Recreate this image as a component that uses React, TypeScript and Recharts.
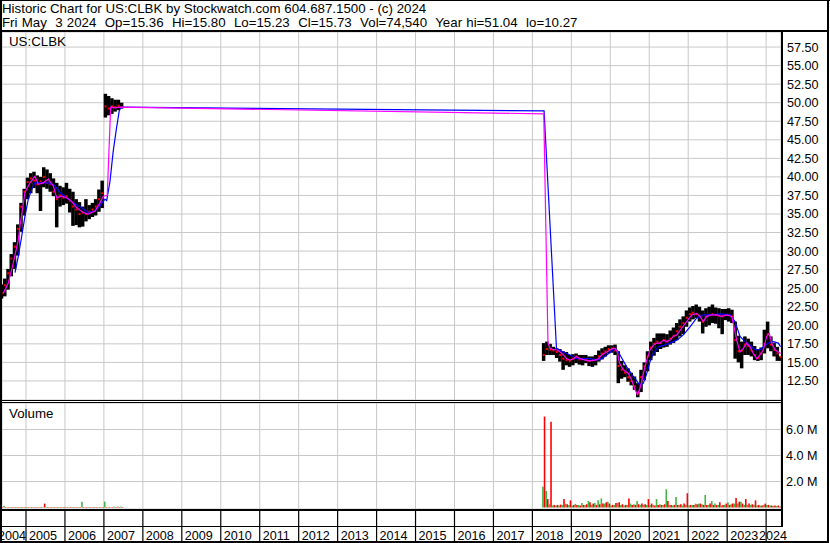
import React from 'react';
import { ComposedChart, Bar, Line, XAxis, YAxis, CartesianGrid } from 'recharts';

const FONT = '"Liberation Sans", Arial, Helvetica, sans-serif';

// ---- categories (months with data) ----
const months = [
  '2004-05','2004-06','2004-07','2004-08','2004-09','2004-10','2004-11','2004-12',
  '2005-01','2005-02','2005-03','2005-04','2005-05','2005-06','2005-07','2005-08','2005-09','2005-10','2005-11','2005-12',
  '2006-01','2006-02','2006-03','2006-04','2006-05','2006-06','2006-07','2006-08','2006-09','2006-10','2006-11','2006-12',
  '2007-01','2007-02','2007-03','2007-04','2007-05','2007-06',
  '2018-04','2018-05','2018-06','2018-07','2018-08','2018-09','2018-10','2018-11','2018-12',
  '2019-01','2019-02','2019-03','2019-04','2019-05','2019-06','2019-07','2019-08','2019-09','2019-10','2019-11','2019-12',
  '2020-01','2020-02','2020-03','2020-04','2020-05','2020-06','2020-07','2020-08','2020-09','2020-10','2020-11','2020-12',
  '2021-01','2021-02','2021-03','2021-04','2021-05','2021-06','2021-07','2021-08','2021-09','2021-10','2021-11','2021-12',
  '2022-01','2022-02','2022-03','2022-04','2022-05','2022-06','2022-07','2022-08','2022-09','2022-10','2022-11','2022-12',
  '2023-01','2023-02','2023-03','2023-04','2023-05','2023-06','2023-07','2023-08','2023-09','2023-10','2023-11','2023-12',
  '2024-01','2024-02','2024-03','2024-04','2024-05',
];

const priceHigh = [
  25.5, 26.3, 27.6, 29.6, 31.2, 33.6, 36.5, 38.4,
  39.9, 40.5, 40.7, 40.2, 40.0, 41.3, 41.0, 40.5, 39.8, 39.2, 38.8, 38.6,
  39.2, 38.4, 38.0, 37.0, 36.6, 36.0, 37.0, 36.2, 36.5, 37.0, 38.3, 39.5,
  51.2, 50.9, 50.6, 50.4, 50.4, 50.0,
  17.6, 17.8, 17.5, 17.1, 16.9, 16.8, 16.5, 16.4, 16.0,
  16.1, 16.2, 16.0, 16.0, 16.0, 15.8, 15.8, 16.0, 16.6, 16.9, 17.1, 17.3,
  17.3, 17.4, 16.5, 15.2, 14.6, 14.2, 13.6, 13.1, 12.2, 14.0, 15.0, 16.5,
  17.8, 18.3, 18.9, 18.9, 18.9, 18.8, 19.3, 19.7, 20.3, 20.8, 21.2, 22.0,
  22.4, 22.6, 22.8, 22.5, 22.0, 22.3, 22.5, 22.8, 22.4, 22.3, 22.2, 22.2,
  22.3, 22.1, 20.5, 18.6, 17.8, 18.5, 18.2, 17.8, 17.2, 16.8, 17.0, 19.4,
  20.5, 18.5, 17.6, 17.1, 15.8,
];

const priceLow = [
  23.6, 23.9, 24.8, 26.6, 27.6, 29.4, 32.6, 34.8,
  37.0, 37.8, 38.5, 37.8, 35.4, 38.6, 38.4, 38.0, 37.4, 33.2, 36.0, 36.2,
  36.4, 35.2, 33.4, 33.5, 33.2, 33.3, 34.0, 34.3, 34.6, 34.8, 35.3, 35.8,
  48.0, 48.3, 48.5, 48.8, 49.0, 49.2,
  15.2, 16.0, 16.0, 16.0, 15.6, 15.1, 14.0, 14.6, 14.4,
  14.6, 14.9, 14.7, 14.6, 14.9, 14.5, 14.4, 14.6, 15.1, 15.4, 15.8, 16.2,
  16.3, 16.0, 12.2, 12.8, 13.0, 12.4, 11.9, 11.3, 10.3, 11.0, 12.6, 13.8,
  15.3, 15.9, 16.4, 16.8, 17.0, 17.1, 17.4, 17.6, 18.0, 18.5, 18.8, 19.8,
  20.5, 20.8, 21.0, 20.5, 18.9, 19.8, 20.0, 20.3, 20.2, 19.6, 18.8, 20.7,
  20.5, 20.3, 15.5, 15.0, 14.2, 16.0, 16.0, 15.8, 15.3, 15.2, 15.3, 16.2,
  16.9, 16.5, 15.8, 15.2, 15.2,
];

const priceClose = [
  24.3, 25.4, 27.0, 29.0, 30.6, 33.0, 36.0, 38.0,
  39.3, 39.8, 39.5, 39.0, 39.4, 40.0, 39.2, 39.0, 38.0, 37.0, 37.5, 37.2,
  37.4, 36.8, 36.0, 35.6, 35.0, 35.2, 35.0, 35.3, 35.6, 36.0, 37.0, 37.8,
  49.5, 49.2, 49.5, 49.4, 49.6, 49.4,
  16.0, 16.8, 16.7, 16.6, 16.4, 16.0, 15.5, 15.3, 15.2,
  15.5, 15.8, 15.4, 15.5, 15.3, 15.2, 15.3, 15.3, 15.8, 16.2, 16.5, 16.8,
  16.9, 16.6, 14.5, 14.0, 13.6, 13.0, 12.5, 11.8, 10.8, 13.0, 14.5, 15.8,
  17.0, 17.5, 17.8, 17.6, 18.0, 17.8, 18.2, 18.6, 19.2, 19.8, 20.3, 21.0,
  21.5, 21.7, 21.5, 21.2, 20.5, 21.2, 21.4, 21.5, 21.4, 21.3, 21.2, 21.4,
  21.4, 21.2, 18.0, 16.5, 16.6, 17.4, 17.2, 16.6, 16.0, 15.6, 16.2, 17.5,
  18.8, 17.4, 16.7, 16.2, 15.7,
];

// volume in millions of shares (peak up-day / down-day volume within each month)
const volUp = [
  0.04, 0.14, 0.04, 0.04, 0.04, 0.04, 0.04, 0.04,
  0.04, 0.04, 0.04, 0.04, 0.04, 0.04, 0.04, 0.04, 0.04, 0.04, 0.04, 0.04,
  0.04, 0.04, 0.04, 0.04, 0.04, 0.45, 0.04, 0.04, 0.04, 0.04, 0.04, 0.04,
  0.45, 0.04, 0.04, 0.06, 0.07, 0.07,
  1.6, 1.27, 0.25, 0.15, 0.15, 0.15, 0.2, 0.3, 0.2,
  0.15, 0.28, 0.2, 0.35, 0.2, 0.5, 0.2, 0.35, 0.55, 0.7, 0.3, 0.45,
  0.15, 0.2, 0.35, 0.2, 0.15, 0.2, 0.3, 0.25, 0.5, 0.2, 0.2, 0.2,
  0.2, 0.2, 0.65, 0.25, 0.2, 1.4, 0.2, 0.15, 0.8, 0.2, 0.15, 0.2,
  0.15, 0.2, 0.3, 0.3, 0.25, 0.96, 0.2, 0.5, 0.3, 0.2, 0.15, 0.2,
  0.4, 0.25, 0.3, 0.3, 0.45, 0.2, 0.2, 0.2, 0.2, 0.15, 0.15, 0.2,
  0.2, 0.15, 0.12, 0.12, 0.08,
];

const volDown = [
  0.04, 0.04, 0.04, 0.04, 0.04, 0.04, 0.04, 0.04,
  0.04, 0.04, 0.04, 0.04, 0.04, 0.3, 0.04, 0.04, 0.04, 0.04, 0.04, 0.04,
  0.04, 0.04, 0.04, 0.04, 0.04, 0.04, 0.04, 0.04, 0.04, 0.04, 0.04, 0.04,
  0.04, 0.04, 0.04, 0.04, 0.04, 0.04,
  7.0, 0.65, 6.6, 0.2, 0.2, 0.22, 0.65, 0.25, 0.55,
  0.2, 0.2, 0.15, 0.2, 0.25, 0.4, 0.3, 0.2, 0.25, 0.3, 0.4, 0.3,
  0.2, 0.35, 0.4, 0.25, 0.2, 0.7, 0.2, 0.2, 0.25, 0.3, 0.25, 0.65,
  0.3, 0.15, 0.2, 0.2, 0.25, 0.5, 0.2, 0.2, 0.2, 0.25, 0.3, 1.1,
  0.2, 0.2, 0.25, 0.3, 0.2, 0.2, 0.3, 0.2, 0.2, 0.4, 0.2, 0.3,
  0.2, 0.3, 0.73, 0.45, 0.3, 0.65, 0.3, 0.25, 0.55, 0.2, 0.15, 0.3,
  0.2, 0.15, 0.15, 0.15, 0.1,
];

// short moving average (magenta): [decimal year, price]
const maShortT = [
  2004.417, 2004.546, 2004.674, 2004.802, 2004.846, 2004.974, 2005.103, 2005.231, 2005.316, 2005.444,
  2005.572, 2005.701, 2005.788, 2005.916, 2006.044, 2006.173, 2006.301, 2006.47, 2006.599, 2006.771,
  2006.899, 2006.984, 2007.086, 2007.173, 2007.284, 2007.412,
  2018.292, 2018.4, 2018.454, 2018.54, 2018.625, 2018.711, 2018.796, 2018.882, 2018.967,
  2019.053, 2019.138, 2019.224, 2019.352, 2019.481, 2019.609, 2019.694, 2019.78, 2019.908,
  2020.037, 2020.122, 2020.182, 2020.233, 2020.336, 2020.464, 2020.55, 2020.635, 2020.695, 2020.764, 2020.849, 2020.935,
  2021.02, 2021.106, 2021.191, 2021.277, 2021.362, 2021.448, 2021.533, 2021.619, 2021.705, 2021.833, 2021.961,
  2022.09, 2022.218, 2022.303, 2022.389, 2022.474, 2022.603, 2022.731, 2022.859, 2022.988,
  2023.116, 2023.176, 2023.244, 2023.33, 2023.415, 2023.501, 2023.586, 2023.672, 2023.757, 2023.843, 2023.929,
  2024.014, 2024.082, 2024.142, 2024.228, 2024.313, 2024.373,
];
const maShortV = [
  24.3, 25.7, 28.4, 31.5, 33.4, 37.9, 39.2, 40.1, 39.0, 39.2,
  39.7, 38.8, 37.2, 37.4, 37.2, 36.7, 35.85, 35.2, 35.0, 35.4,
  36.5, 37.4, 37.5, 49.4, 49.3, 49.4,
  48.5, 17.6, 16.9, 16.7, 16.7, 16.4, 16.0, 15.5, 15.3,
  15.5, 15.8, 15.5, 15.3, 15.2, 15.3, 15.5, 16.0, 16.4,
  16.8, 16.9, 16.4, 14.9, 14.0, 13.5, 12.6, 11.3, 10.7, 11.5, 13.5, 15.3,
  16.7, 17.3, 17.6, 17.6, 18.0, 17.8, 18.0, 18.5, 18.7, 19.6, 20.5,
  21.4, 21.6, 21.2, 20.5, 21.2, 21.4, 21.4, 21.2, 21.4,
  21.2, 19.8, 18.0, 16.4, 16.9, 17.6, 17.1, 16.2, 15.5, 16.0, 16.7,
  18.5, 18.9, 17.6, 16.7, 16.4, 16.2,
];

// long moving average (blue)
const maLongT = [
  2004.718, 2004.802, 2004.89, 2004.974, 2005.059, 2005.146, 2005.231, 2005.359, 2005.572, 2005.744,
  2005.872, 2006.044, 2006.214, 2006.429, 2006.599, 2006.771, 2006.899, 2007.027, 2007.071, 2007.156,
  2007.24, 2007.327, 2007.394, 2007.438,
  2018.3, 2018.618, 2018.796, 2018.967, 2019.138, 2019.31, 2019.481, 2019.652, 2019.78, 2019.908,
  2020.079, 2020.165, 2020.25, 2020.421, 2020.593, 2020.764, 2020.849, 2020.935,
  2021.02, 2021.106, 2021.234, 2021.362, 2021.533, 2021.705, 2021.876,
  2022.047, 2022.218, 2022.389, 2022.56, 2022.731, 2022.902,
  2023.073, 2023.201, 2023.33, 2023.458, 2023.586, 2023.715, 2023.843, 2023.929,
  2024.057, 2024.185, 2024.313, 2024.373,
];
const maLongV = [
  27.1, 29.3, 32.0, 34.7, 37.0, 38.3, 39.2, 39.2, 39.2, 38.8,
  37.9, 37.2, 36.5, 35.85, 35.2, 35.4, 36.1, 37.0, 36.8, 39.4,
  43.5, 46.7, 48.9, 49.4,
  48.9, 16.9, 16.4, 16.0, 15.5, 15.5, 15.5, 15.3, 15.5, 16.0,
  16.7, 16.7, 16.0, 14.4, 13.1, 11.9, 12.2, 13.5,
  15.1, 16.2, 17.1, 17.3, 17.6, 18.0, 18.7,
  19.8, 21.0, 21.4, 21.4, 21.5, 21.5,
  21.4, 20.5, 18.5, 17.8, 17.3, 16.7, 16.7, 17.1,
  17.6, 17.8, 17.6, 17.1,
];

// ---- axis tick labels ----
const yearTicks = [2005, 2006, 2007, 2008, 2009, 2010, 2011, 2012, 2013, 2014, 2015, 2016, 2017, 2018, 2019, 2020, 2021, 2022, 2023, 2024];
const priceTicks = [12.5, 15, 17.5, 20, 22.5, 25, 27.5, 30, 32.5, 35, 37.5, 40, 42.5, 45, 47.5, 50, 52.5, 55, 57.5];
const volTicks = [2, 4, 6];

const X_START = 2004.384;
const X_END = 2024.382;
const PRICE_DOMAIN: [number, number] = [9.93, 59.53];

const monthToT = (m: string) => {
  const [y, mo] = m.split('-').map(Number);
  return y + (mo - 0.5) / 12;
};

const rows = months.map((m, i) => ({
  t: monthToT(m),
  hi: priceHigh[i],
  lo: priceLow[i],
  cl: priceClose[i],
  up: volUp[i],
  dn: volDown[i],
}));
const maShort = maShortT.map((t, i) => ({ t, v: maShortV[i] }));
const maLong = maLongT.map((t, i) => ({ t, v: maLongV[i] }));

// high-low bar, widened slightly so neighbouring months join into a band
const RangeShape = (p: any) => {
  const { x, y, width, height } = p;
  if (x == null || y == null) return <g />;
  const top = Math.min(y, y + height);
  const h = Math.abs(height);
  const cx = x + width / 2;
  return <rect x={cx - 1.75} y={top} width={3.5} height={h} fill="#000" />;
};

const CloseDot = (p: any) => {
  if (p.cx == null || p.cy == null) return <g key={p.index} />;
  return <rect key={p.index} x={p.cx - 1} y={p.cy - 1} width={2} height={2} fill="#ff0000" />;
};

const YearTick = (props: any) => {
  const { x, y, payload } = props;
  const v = payload.value as number;
  const first = v < 2005;
  const label = first ? '2004' : String(v);
  let tx = x + 3;
  let anchor: 'start' | 'end' = 'start';
  if (first) {
    tx = x + 24;
    anchor = 'end';
  }
  if (v === 2024) tx = x - 7;
  return (
    <g>
      {!first && <line x1={x} x2={x} y1={y} y2={y + 32} stroke="#000" strokeWidth={1.2} />}
      <text x={tx} y={y + 30.5} textAnchor={anchor} fontSize={12.6} fontFamily={FONT} fill="#000">
        {label}
      </text>
    </g>
  );
};

const tickStyle = { fill: '#000', fontSize: 12.6, fontFamily: FONT };
const PRICE_MARGIN = { top: 32, right: 2, bottom: 1, left: 2 };

export default function App() {
  return (
    <div style={{ position: 'absolute', left: 0, top: 0, width: 830, height: 543, background: '#fff', overflow: 'hidden' }}>
      {/* price: grid, axis, high-low bars and closes */}
      <div style={{ position: 'absolute', left: 0, top: 0 }}>
        <ComposedChart width={830} height={401} data={rows} margin={PRICE_MARGIN}>
          <CartesianGrid stroke="#c8c8c8" strokeDasharray="" />
          <XAxis dataKey="t" type="number" domain={[X_START, X_END]} ticks={yearTicks} allowDataOverflow hide />
          <YAxis
            orientation="right"
            type="number"
            domain={PRICE_DOMAIN}
            ticks={priceTicks}
            allowDataOverflow
            width={47}
            tickLine={false}
            axisLine={false}
            tickSize={0}
            tickMargin={6}
            interval={0}
            tick={tickStyle}
            tickFormatter={(v: number) => v.toFixed(2)}
          />
          <Bar dataKey={(d: any) => [d.lo, d.hi]} fill="#000" barSize={3} shape={RangeShape} isAnimationActive={false} />
          <Line dataKey="cl" stroke="none" dot={CloseDot} activeDot={false} isAnimationActive={false} />
        </ComposedChart>
      </div>
      {/* price: moving averages overlay */}
      <div style={{ position: 'absolute', left: 0, top: 0 }}>
        <ComposedChart width={830} height={401} data={maShort} margin={PRICE_MARGIN}>
          <XAxis dataKey="t" type="number" domain={[X_START, X_END]} allowDataOverflow hide />
          <YAxis orientation="right" type="number" domain={PRICE_DOMAIN} allowDataOverflow width={47} tick={false} tickLine={false} axisLine={false} />
          <Line data={maLong} dataKey="v" stroke="#0000ff" strokeWidth={1.2} dot={false} activeDot={false} isAnimationActive={false} />
          <Line data={maShort} dataKey="v" stroke="#ff00ff" strokeWidth={1.2} dot={false} activeDot={false} isAnimationActive={false} />
        </ComposedChart>
      </div>
      {/* volume */}
      <div style={{ position: 'absolute', left: 0, top: 402 }}>
        <ComposedChart width={830} height={141} data={rows} barGap={0} margin={{ top: 1, right: 2, bottom: 0, left: 2 }}>
          <CartesianGrid stroke="#c8c8c8" strokeDasharray="" />
          <XAxis
            dataKey="t"
            type="number"
            domain={[X_START, X_END]}
            ticks={[X_START, ...yearTicks]}
            allowDataOverflow
            height={34}
            interval={0}
            tickLine={false}
            axisLine={false}
            tickSize={0}
            tickMargin={0}
            tick={YearTick}
          />
          <YAxis
            orientation="right"
            type="number"
            domain={[-0.115, 8.04]}
            ticks={volTicks}
            allowDataOverflow
            width={47}
            tickLine={false}
            axisLine={false}
            tickSize={0}
            tickMargin={5}
            interval={0}
            tick={tickStyle}
            tickFormatter={(v: number) => `${v.toFixed(1)} M`}
          />
          <Bar dataKey="up" fill="#44b444" barSize={1.6} isAnimationActive={false} />
          <Bar dataKey="dn" fill="#ff0000" barSize={1.6} isAnimationActive={false} />
        </ComposedChart>
      </div>
      <svg width={830} height={543} style={{ position: 'absolute', left: 0, top: 0, pointerEvents: 'none' }}>
        <g fontFamily={FONT} fill="#000">
          <text x={2} y={13} fontSize={13.3} style={{ whiteSpace: 'pre' }}>
            Historic Chart for US:CLBK by Stockwatch.com 604.687.1500 - (c) 2024
          </text>
          <text x={2} y={27} fontSize={13.3} wordSpacing={0.5} style={{ whiteSpace: 'pre' }}>
            {'Fri May  3 2024  Op=15.36  Hi=15.80  Lo=15.23  Cl=15.73  Vol=74,540  Year hi=51.04  lo=10.27'}
          </text>
          <text x={9} y={46} fontSize={13.3}>US:CLBK</text>
          <text x={9} y={418} fontSize={13.3}>Volume</text>
        </g>
        <g fill="#000">
          <rect x={0} y={0} width={830} height={1} />
          <rect x={0} y={0} width={2} height={543} />
          <rect x={827} y={0} width={2} height={543} />
          <rect x={0} y={30} width={829} height={2} />
          <rect x={781} y={32} width={2} height={495} />
          <rect x={0} y={400} width={781} height={1} />
          <rect x={0} y={402} width={781} height={1} />
          <rect x={0} y={509} width={783} height={2} />
          <rect x={0} y={526} width={783} height={1} />
          <rect x={0} y={541} width={829} height={2} />
        </g>
      </svg>
    </div>
  );
}
